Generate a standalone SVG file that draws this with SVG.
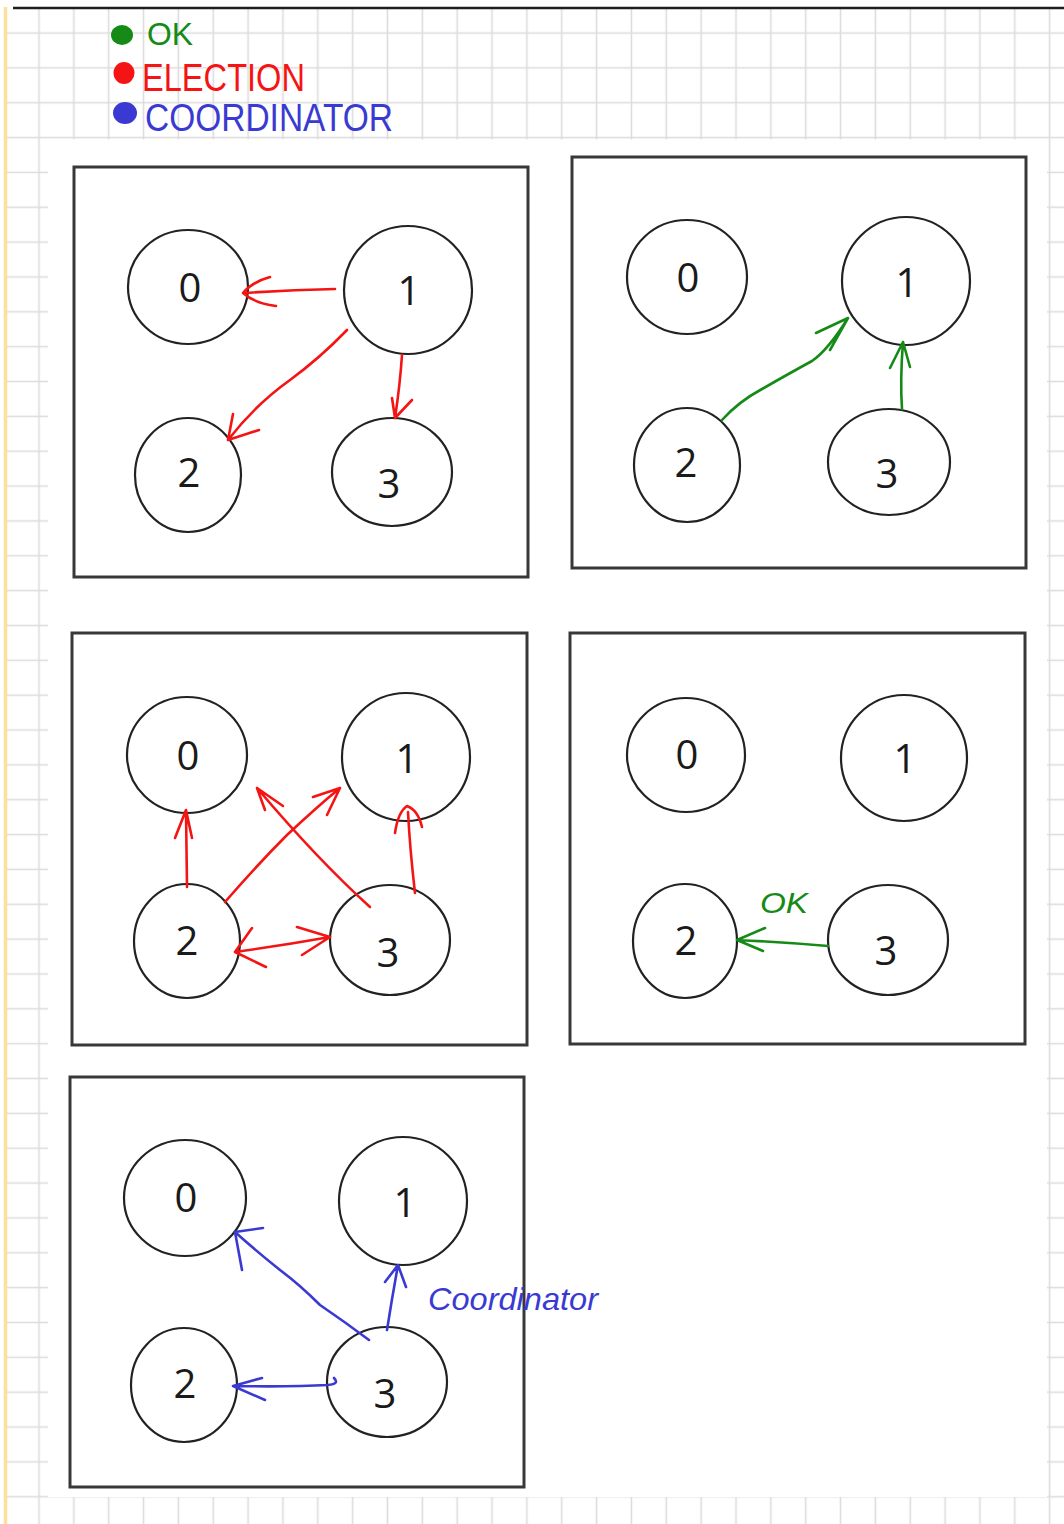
<svg xmlns="http://www.w3.org/2000/svg" width="1064" height="1524" viewBox="0 0 1064 1524">
<style>
.panel{fill:none;stroke:#383838;stroke-width:3}
.node{fill:#fff;stroke:#222;stroke-width:2.2}
.lbl{font-family:"Open Sans","Liberation Sans",sans-serif;font-size:40px;fill:#1a1a1a;text-anchor:middle}
.red{fill:none;stroke:#f51414;stroke-width:2.6;stroke-linecap:round;stroke-linejoin:round}
.green{fill:none;stroke:#168a16;stroke-width:2.6;stroke-linecap:round;stroke-linejoin:round}
.blue{fill:none;stroke:#3a3ad2;stroke-width:2.6;stroke-linecap:round;stroke-linejoin:round}
.hand{font-family:"Liberation Sans","DejaVu Sans",sans-serif}
</style>
<defs>
<pattern id="grid" patternUnits="userSpaceOnUse" x="21.6" y="15.6" width="34.85" height="34.85">
<path d="M17.4,0 V34.85 M0,17.4 H34.85" stroke="#dcdcdc" stroke-width="1.6" fill="none"/>
</pattern>
</defs>
<rect x="0" y="0" width="1064" height="1524" fill="#fff"/>
<g id="paper">
<rect x="7" y="9" width="1057" height="1515" fill="url(#grid)"/>
<rect x="48" y="139.5" width="999" height="1357.5" fill="#fff"/>
<line x1="5.5" y1="7" x2="5.5" y2="1524" stroke="#ffe09a" stroke-width="3.5"/>
<line x1="13" y1="8" x2="1064" y2="8" stroke="#1e1e1e" stroke-width="2.6"/>
</g>
<g id="legend" class="hand">
<ellipse cx="122" cy="35" rx="11" ry="10" fill="#168a16"/>
<text x="147" y="45" font-size="32" fill="#168a16" textLength="46" lengthAdjust="spacingAndGlyphs">OK</text>
<ellipse cx="124" cy="73" rx="10.5" ry="11" fill="#f51414"/>
<text x="142" y="91" font-size="38" fill="#f51414" textLength="163" lengthAdjust="spacingAndGlyphs">ELECTION</text>
<ellipse cx="125" cy="113" rx="12" ry="11" fill="#3a3ad2"/>
<text x="145" y="131" font-size="38" fill="#3a3ad2" textLength="248" lengthAdjust="spacingAndGlyphs">COORDINATOR</text>
</g>
<g id="panel1">
<rect class="panel" x="74" y="167" width="454" height="410"/>
<g id="p1-node0"><ellipse class="node" cx="188" cy="287" rx="60" ry="57"/><text class="lbl" x="190" y="302">0</text></g>
<g id="p1-node1"><ellipse class="node" cx="408" cy="290" rx="64" ry="64"/><text class="lbl" x="409" y="305">1</text></g>
<g id="p1-node2"><ellipse class="node" cx="188" cy="475" rx="53" ry="57"/><text class="lbl" x="189" y="487">2</text></g>
<g id="p1-node3"><ellipse class="node" cx="392" cy="472" rx="60" ry="54"/><text class="lbl" x="389" y="498">3</text></g>
</g>
<g id="panel2">
<rect class="panel" x="572" y="157" width="454" height="411"/>
<g id="p2-node0"><ellipse class="node" cx="687" cy="277" rx="60" ry="57"/><text class="lbl" x="688" y="292">0</text></g>
<g id="p2-node1"><ellipse class="node" cx="906" cy="281" rx="64" ry="64"/><text class="lbl" x="907" y="297">1</text></g>
<g id="p2-node2"><ellipse class="node" cx="687" cy="465" rx="53" ry="57"/><text class="lbl" x="686" y="477">2</text></g>
<g id="p2-node3"><ellipse class="node" cx="889" cy="462" rx="61" ry="53"/><text class="lbl" x="887" y="488">3</text></g>
</g>
<g id="panel3">
<rect class="panel" x="72" y="633" width="455" height="412"/>
<g id="p3-node0"><ellipse class="node" cx="187" cy="755" rx="60" ry="58"/><text class="lbl" x="188" y="770">0</text></g>
<g id="p3-node1"><ellipse class="node" cx="406" cy="757" rx="64" ry="64"/><text class="lbl" x="407" y="773">1</text></g>
<g id="p3-node2"><ellipse class="node" cx="187" cy="941" rx="53" ry="57"/><text class="lbl" x="187" y="955">2</text></g>
<g id="p3-node3"><ellipse class="node" cx="390" cy="940" rx="60" ry="55"/><text class="lbl" x="388" y="967">3</text></g>
</g>
<g id="panel4">
<rect class="panel" x="570" y="633" width="455" height="411"/>
<g id="p4-node0"><ellipse class="node" cx="686" cy="755" rx="59" ry="57"/><text class="lbl" x="687" y="769">0</text></g>
<g id="p4-node1"><ellipse class="node" cx="904" cy="758" rx="63" ry="63"/><text class="lbl" x="905" y="773">1</text></g>
<g id="p4-node2"><ellipse class="node" cx="685" cy="941" rx="52" ry="57"/><text class="lbl" x="686" y="955">2</text></g>
<g id="p4-node3"><ellipse class="node" cx="888" cy="940" rx="60" ry="55"/><text class="lbl" x="886" y="965">3</text></g>
</g>
<g id="panel5">
<rect class="panel" x="70" y="1077" width="454" height="410"/>
<g id="p5-node0"><ellipse class="node" cx="185" cy="1198" rx="61" ry="58"/><text class="lbl" x="186" y="1212">0</text></g>
<g id="p5-node1"><ellipse class="node" cx="403" cy="1201" rx="64" ry="64"/><text class="lbl" x="405" y="1217">1</text></g>
<g id="p5-node2"><ellipse class="node" cx="184" cy="1385" rx="53" ry="57"/><text class="lbl" x="185" y="1398">2</text></g>
<g id="p5-node3"><ellipse class="node" cx="387" cy="1382" rx="60" ry="55"/><text class="lbl" x="385" y="1408">3</text></g>
</g>
<g id="connectors">
<path class="red" d="M335,289 Q290,290 243,293 M270,277 Q252,282 243,293 Q254,303 276,306"/>
<path class="red" d="M347,330 Q320,358 290,380 Q255,405 228,440 M233,414 L228,440 L259,430"/>
<path class="red" d="M402,355 Q400,385 395,418 M392,398 L395,418 L412,400"/>
<path class="green" d="M722,420 Q738,402 762,389 Q790,373 812,361 Q828,350 848,318 M816,333 L848,318 L830,350"/>
<path class="green" d="M902,409 Q900,380 903,342 M890,368 L903,342 L910,367"/>
<path class="red" d="M187,887 L186,810 M175,838 L186,810 L192,838"/>
<path class="red" d="M225,902 Q258,864 287,835 Q318,806 340,788 M313,797 L340,788 L327,815"/>
<path class="red" d="M370,907 Q318,860 257,788 M283,806 L257,788 L265,810"/>
<path class="red" d="M415,893 Q410,850 408,812 M395,833 Q398,812 407,806 Q418,810 422,827"/>
<path class="red" d="M235,952 Q285,945 330,937 M252,928 L235,952 L266,967 M297,927 L330,937 L302,955"/>
<path class="green" d="M828,946 Q780,942 737,940 M765,928 L737,940 L763,951"/>
<path class="blue" d="M369,1340 Q345,1322 320,1305 Q300,1285 280,1270 Q255,1250 235,1232 M263,1228 L235,1232 L242,1270"/>
<path class="blue" d="M387,1330 Q392,1298 398,1265 M385,1282 L398,1265 L406,1287"/>
<path class="blue" d="M334,1378 Q340,1384 328,1385 Q290,1387 233,1386 M262,1378 L233,1386 L265,1400"/>
</g>
<g id="labels" class="hand">
<text x="760" y="913" font-size="30" fill="#168a16" font-style="italic" textLength="48" lengthAdjust="spacingAndGlyphs">OK</text>
<text x="428" y="1310" font-size="32" fill="#3a3ad2" font-style="italic" textLength="170" lengthAdjust="spacingAndGlyphs">Coordinator</text>
</g>
</svg>
